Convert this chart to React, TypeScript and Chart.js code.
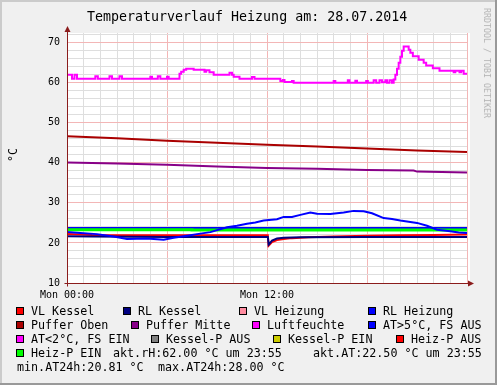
import React, { useEffect, useRef } from "react";
import { Chart, registerables } from "chart.js";

Chart.register(...registerables);

// ---------- text ----------
const TITLE = "Temperaturverlauf Heizung am: 28.07.2014";
const Y_UNIT = "°C";
const WATERMARK = "RRDTOOL / TOBI OETIKER";
const X_TICK_HOURS = [0, 12];
const X_TICK_TEXT = ["Mon 00:00", "Mon 12:00"];

// ---------- data (x in hours since Mon 00:00, y in °C / %) ----------
const pufferObenT = [0, 3, 6, 9, 12, 15, 18, 21, 24];
const pufferObenV = [46.6, 46.1, 45.5, 45.0, 44.5, 44.1, 43.6, 43.1, 42.7];

const pufferMitteT = [0, 3, 6, 9, 12, 15, 18, 20.8, 21.0, 24];
const pufferMitteV = [40.1, 39.8, 39.5, 39.1, 38.7, 38.5, 38.2, 38.05, 37.8, 37.6];

const luftT = [
  0, 0.3, 0.45, 0.6, 1.7, 1.85, 2.55, 2.7, 3.15, 3.3, 5.0, 5.1, 5.45, 5.6, 6.0, 6.1,
  6.75, 6.85, 7.0, 7.15, 7.6, 8.25, 8.35, 8.55, 8.8, 9.75, 9.9, 10.0, 10.35, 11.1, 11.25,
  12.8, 12.95, 13.05, 13.5, 13.6, 16.0, 16.1, 16.85, 16.95, 17.3, 17.4, 17.95, 18.05,
  18.4, 18.55, 18.75, 18.9, 19.1, 19.2, 19.35, 19.5, 19.6, 19.7, 19.8, 19.9, 20.0, 20.1,
  20.2, 20.5, 20.6, 20.75, 21.1, 21.4, 21.55, 21.95, 22.35, 23.2, 23.3, 23.55, 23.65, 23.8, 24,
];
const luftV = [
  62, 61, 62, 61, 61.6, 61, 61.6, 61, 61.6, 61, 61.5, 61, 61.6, 61, 61.5, 61,
  62.2, 62.7, 63.2, 63.5, 63.2, 62.7, 63.1, 62.6, 62.0, 62.5, 62.0, 61.5, 61.0, 61.4, 61.0,
  60.4, 60.7, 60.2, 60.4, 60.0, 60.4, 60.0, 60.6, 60.0, 60.5, 60.0, 60.4, 60.0,
  60.6, 60.0, 60.6, 60.1, 60.6, 60.0, 60.6, 60.0, 60.8, 62.0, 63.5, 65.0, 66.5, 68.0,
  69.0, 68.2, 67.5, 66.6, 65.7, 65.0, 64.3, 63.6, 63.0, 62.6, 63.0, 62.6, 63.0, 62.2, 62.2,
];

const vlKesselT = [0, 1.5, 6, 12.05, 12.1, 12.3, 12.6, 13, 13.5, 14.5, 16, 18, 20, 22, 24];
const vlKesselV = [22.2, 22.0, 21.9, 21.9, 19.3, 20.2, 20.7, 21.0, 21.2, 21.4, 21.6, 21.8, 21.9, 22.0, 22.1];

const rlKesselT = [0, 1.5, 6, 12.05, 12.1, 12.3, 12.6, 13, 14, 18, 24];
const rlKesselV = [21.7, 21.6, 21.5, 21.5, 19.6, 20.6, 21.1, 21.3, 21.4, 21.5, 21.5];

const rlHeizungT = [0, 24];
const rlHeizungV = [23.7, 23.7];

const heizPEinT = [0, 7.4, 7.5, 24];
const heizPEinV = [23.3, 23.3, 23.2, 23.2];

const aussenT = [
  0, 0.8, 1.8, 2.8, 3.6, 4.8, 5.8, 6.4, 7.2, 7.8, 8.6, 9.6, 10.2, 10.8, 11.3, 11.8, 12.6,
  13.0, 13.5, 14.0, 14.6, 15.0, 15.8, 16.6, 17.2, 17.8, 18.3, 19.0, 19.5, 20.0, 20.5, 21.0,
  21.6, 22.2, 23.0, 23.5, 24.0,
];
const aussenV = [
  22.7, 22.5, 22.2, 21.6, 21.0, 21.1, 20.8, 21.3, 21.8, 22.2, 22.7, 23.9, 24.3, 24.8, 25.1, 25.6, 25.9,
  26.5, 26.5, 27.0, 27.6, 27.3, 27.2, 27.6, 28.0, 27.9, 27.4, 26.2, 26.0, 25.6, 25.3, 25.0,
  24.3, 23.3, 22.9, 22.6, 22.5,
];

// ---------- legend ----------
const legendLabels = [
  ["VL Kessel", "RL Kessel", "VL Heizung", "RL Heizung"],
  ["Puffer Oben", "Puffer Mitte", "Luftfeuchte", "AT>5°C, FS AUS"],
  ["AT<2°C, FS EIN", "Kessel-P AUS", "Kessel-P EIN", "Heiz-P AUS"],
  ["Heiz-P EIN"],
];
const legendColors = [
  ["#FF0000", "#000080", "#FF8CA0", "#0000FF"],
  ["#AA0000", "#880088", "#FF00FF", "#0000FF"],
  ["#FF00FF", "#808080", "#CCCC00", "#FF0000"],
  ["#00FF00"],
];
const commentRow4 = ["akt.rH:62.00 °C um 23:55", "akt.AT:22.50 °C um 23:55"];
const commentRow5 = ["min.AT24h:20.81 °C", "max.AT24h:28.00 °C"];

// ---------- layout (positions / styles) ----------
const W = 497;
const H = 385;
const MONO = "'DejaVu Sans Mono', monospace";
const LEGEND_TEXT_X = [
  [31, 138, 254, 383],
  [31, 146, 267, 383],
  [31, 166, 288, 411],
  [31],
];
const COMMENT4_X = [113, 313];
const COMMENT5_X = [17, 158];
const ROW_TOP = [304, 318, 332, 346, 360];
const AXIS_COLOR = "#8b1c1c";
const MINOR_GRID = "#dedede";
const MAJOR_GRID = "#f3b6b6";

const pts = (t: number[], v: number[]) => t.map((x, i) => ({ x, y: v[i] }));

const framePlugin = {
  id: "rrdFrame",
  beforeDraw(chart: any) {
    const { ctx, chartArea: a } = chart;
    ctx.save();
    ctx.fillStyle = "#F0F0F0";
    ctx.fillRect(0, 0, W, H);
    ctx.fillStyle = "#CBCBCB";
    ctx.fillRect(0, 0, W, 2);
    ctx.fillRect(0, 0, 2, H);
    ctx.fillStyle = "#999999";
    ctx.fillRect(0, H - 2, W, 2);
    ctx.fillRect(W - 2, 0, 2, H);
    ctx.fillStyle = "#FFFFFF";
    ctx.fillRect(a.left, a.top, a.right - a.left + 3, a.bottom - a.top);
    ctx.restore();
  },
  afterDatasetsDraw(chart: any) {
    const { ctx, chartArea: a } = chart;
    ctx.save();
    ctx.strokeStyle = AXIS_COLOR;
    ctx.fillStyle = AXIS_COLOR;
    ctx.lineWidth = 1;
    const x0 = Math.round(a.left) + 0.5;
    const y0 = Math.round(a.bottom) + 0.5;
    ctx.beginPath();
    ctx.moveTo(x0, y0 + 3);
    ctx.lineTo(x0, a.top - 2);
    ctx.moveTo(x0 - 3, y0);
    ctx.lineTo(a.right + 2, y0);
    ctx.stroke();
    // arrows
    ctx.beginPath();
    ctx.moveTo(x0, a.top - 7);
    ctx.lineTo(x0 - 3, a.top - 1);
    ctx.lineTo(x0 + 3, a.top - 1);
    ctx.closePath();
    ctx.fill();
    ctx.beginPath();
    ctx.moveTo(a.right + 7, y0);
    ctx.lineTo(a.right + 1, y0 - 3);
    ctx.lineTo(a.right + 1, y0 + 3);
    ctx.closePath();
    ctx.fill();
    ctx.restore();
  },
};

function line(label: string, data: any[], color: string, width: number, order: number, stepped: any = false) {
  return {
    label,
    data,
    borderColor: color,
    backgroundColor: color,
    borderWidth: width,
    pointRadius: 0,
    fill: false,
    tension: 0,
    stepped,
    order,
    borderCapStyle: "butt",
    borderJoinStyle: "miter",
  };
}

export default function App() {
  const ref = useRef<HTMLCanvasElement>(null);

  useEffect(() => {
    const datasets = [
      line("Puffer Oben", pts(pufferObenT, pufferObenV), "#AA0000", 2, 100),
      line("Puffer Mitte", pts(pufferMitteT, pufferMitteV), "#880088", 2, 99),
      line("Luftfeuchte", pts(luftT, luftV), "#FF00FF", 2, 98, "before"),
      line("VL Kessel", pts(vlKesselT, vlKesselV), "#FF0000", 2, 97),
      line("RL Kessel", pts(rlKesselT, rlKesselV), "#000080", 2, 96),
      line("RL Heizung", pts(rlHeizungT, rlHeizungV), "#0000FF", 2, 95),
      line("Heiz-P EIN", pts(heizPEinT, heizPEinV), "#00FF00", 3, 94, "before"),
      line("AT", pts(aussenT, aussenV), "#0000FF", 2, 93),
    ];
    const gridColor = (step: number) => (ctx: any) =>
      ctx.tick && Math.abs(Math.round(ctx.tick.value) - ctx.tick.value) < 1e-6 && Math.round(ctx.tick.value) % step === 0
        ? MAJOR_GRID
        : MINOR_GRID;
    const chart = new Chart(ref.current as HTMLCanvasElement, {
      type: "line",
      data: { datasets: datasets as any },
      plugins: [framePlugin],
      options: {
        animation: false,
        responsive: false,
        maintainAspectRatio: false,
        layout: { padding: { left: 0, top: 33, right: 30, bottom: 0 } },
        plugins: { legend: { display: false }, tooltip: { enabled: false }, title: { display: false } },
        events: [],
        scales: {
          x: {
            type: "linear",
            min: 0,
            max: 24,
            border: { display: false },
            grid: { color: gridColor(6), lineWidth: 1, drawTicks: false },
            ticks: {
              stepSize: 1,
              autoSkip: false,
              maxRotation: 0,
              minRotation: 0,
              includeBounds: false,
              padding: 6,
              color: "#000",
              font: { family: MONO, size: 10 },
              callback: (v: any) => {
                const i = X_TICK_HOURS.indexOf(Number(v));
                return i >= 0 ? X_TICK_TEXT[i] : "";
              },
            },
            afterFit: (s: any) => {
              s.height = H - 283;
            },
          },
          y: {
            type: "linear",
            min: 10,
            max: 72.4,
            border: { display: false },
            grid: { color: gridColor(10), lineWidth: 1, drawTicks: false },
            ticks: {
              stepSize: 2,
              autoSkip: false,
              includeBounds: false,
              padding: 7,
              color: "#000",
              font: { family: MONO, size: 10 },
              callback: (v: any) => {
                const n = Math.round(Number(v));
                return n % 10 === 0 ? String(n) : "";
              },
            },
            afterFit: (s: any) => {
              s.width = 67;
            },
          },
        },
      } as any,
    });
    return () => chart.destroy();
  }, []);

  const textBase: React.CSSProperties = {
    position: "absolute",
    fontFamily: MONO,
    fontSize: "11.7px",
    lineHeight: "14px",
    color: "#000",
    whiteSpace: "pre",
  };

  const items: React.ReactNode[] = [];
  legendLabels.forEach((row, r) => {
    row.forEach((label, c) => {
      const tx = LEGEND_TEXT_X[r][c];
      items.push(
        <div
          key={`b${r}-${c}`}
          style={{
            position: "absolute",
            left: tx - 15,
            top: ROW_TOP[r] + 3,
            width: 8,
            height: 8,
            boxSizing: "border-box",
            border: "1px solid #000",
            background: legendColors[r][c],
          }}
        />
      );
      items.push(
        <div key={`t${r}-${c}`} style={{ ...textBase, left: tx, top: ROW_TOP[r] }}>
          {label}
        </div>
      );
    });
  });
  commentRow4.forEach((t, i) =>
    items.push(
      <div key={`c4-${i}`} style={{ ...textBase, left: COMMENT4_X[i], top: ROW_TOP[3] }}>
        {t}
      </div>
    )
  );
  commentRow5.forEach((t, i) =>
    items.push(
      <div key={`c5-${i}`} style={{ ...textBase, left: COMMENT5_X[i], top: ROW_TOP[4] }}>
        {t}
      </div>
    )
  );

  return (
    <div style={{ position: "absolute", left: 0, top: 0, width: W, height: H, overflow: "hidden" }}>
      <canvas
        ref={ref}
        width={W}
        height={H}
        style={{ position: "absolute", left: 0, top: 0, width: W, height: H }}
      />
      <div
        style={{
          position: "absolute",
          left: 87,
          top: 9,
          fontFamily: MONO,
          fontSize: "13.3px",
          lineHeight: "16px",
          whiteSpace: "pre",
          color: "#000",
        }}
      >
        {TITLE}
      </div>
      <div
        style={{
          position: "absolute",
          left: 13,
          top: 155,
          transform: "translate(-50%, -50%) rotate(-90deg)",
          fontFamily: MONO,
          fontSize: "11.7px",
          lineHeight: "14px",
          whiteSpace: "pre",
          color: "#000",
        }}
      >
        {Y_UNIT}
      </div>
      <div
        style={{
          position: "absolute",
          left: 487,
          top: 63,
          transform: "translate(-50%, -50%) rotate(90deg)",
          fontFamily: MONO,
          fontSize: "8.3px",
          lineHeight: "10px",
          whiteSpace: "pre",
          color: "#b4b4b4",
        }}
      >
        {WATERMARK}
      </div>
      {items}
    </div>
  );
}
